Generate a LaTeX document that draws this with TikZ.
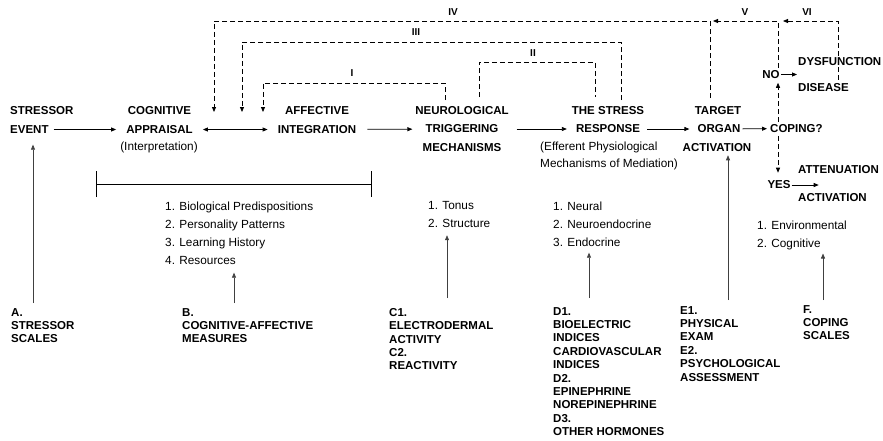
\documentclass[tikz,border=0pt]{standalone}
\usepackage{fontspec}
\setmainfont{Liberation Sans}
\usetikzlibrary{arrows.meta}

\tikzset{
	stage/.style={font=\bfseries\fontsize{11.5}{13.4}\selectfont, inner sep=0pt},
	factor/.style={font=\fontsize{11.8}{18}\selectfont, inner sep=0pt, align=left, anchor=north west},
	gloss/.style={font=\fontsize{11.8}{17.5}\selectfont, inner sep=0pt},
	measure/.style={stage, align=left, anchor=north west},
	loopno/.style={font=\bfseries\fontsize{10}{12}\selectfont, inner sep=0pt},
	flow/.style={->, line width=0.8pt},
	feedback/.style={line width=0.8pt, dash pattern=on 5pt off 3pt},
	gauge/.style={->, line width=0.6pt, black!75},
}

\begin{document}
\begin{tikzpicture}[x=1pt, y=-1pt, >={Triangle[length=5pt,width=4pt]}]
		\useasboundingbox (0,0) rectangle (883,440);
		% main sequence
		\node[stage, anchor=west] (stressor) at (10,111) {STRESSOR};
		\node[stage, anchor=west] (event) at (10,129.5) {EVENT};
		\node[stage] (cognitive) at (159.5,111) {COGNITIVE};
		\node[stage] (appraisal) at (159.5,129.5) {APPRAISAL};
		\node[gloss] (interp) at (159,147.5) {(Interpretation)};
		\node[stage] (affective) at (317,111) {AFFECTIVE};
		\node[stage] (integration) at (317,129.5) {INTEGRATION};
		\node[stage] (neuro) at (462,110.5) {NEUROLOGICAL};
		\node[stage] (trigger) at (462,129) {TRIGGERING};
		\node[stage] (mechanisms) at (462,147.5) {MECHANISMS};
		\node[stage] (thestress) at (608,110.5) {THE STRESS};
		\node[stage] (response) at (608,129) {RESPONSE};
		\node[gloss, align=left, anchor=north west] (efferent) at (540,141.5) {(Efferent Physiological\\Mechanisms of Mediation)};
		\node[stage] (target) at (718,110.5) {TARGET};
		\node[stage] (organ) at (719,129) {ORGAN};
		\node[stage] (activation) at (717,147.5) {ACTIVATION};
		\node[stage, anchor=west] (coping) at (770,128.5) {COPING?};
		\node[stage] (no) at (771,74.5) {NO};
		\node[stage, anchor=west] (dysfunction) at (798,61.5) {DYSFUNCTION};
		\node[stage, anchor=west] (disease) at (798,88) {DISEASE};
		\node[stage] (yes) at (779,185) {YES};
		\node[stage, anchor=west] (attenuation) at (798,170) {ATTENUATION};
		\node[stage, anchor=west] (relief) at (798,198) {ACTIVATION};

		\draw[flow, shorten <=5pt, shorten >=10pt] (event) -- (appraisal);
		\draw[flow, <->, shorten <=10pt, shorten >=10pt] (appraisal) -- (integration);
		\draw[flow, shorten <=11pt, shorten >=13pt] (integration) -- (trigger);
		\draw[flow, shorten <=18pt, shorten >=9pt] (trigger) -- (response);
		\draw[flow, shorten <=7pt, shorten >=8pt] (response) -- (organ);
		\draw[flow, shorten <=2pt, shorten >=3pt] (organ) -- (coping);
		\draw[flow, shorten <=1pt, shorten >=1pt] (no.east) -- (no.east -| dysfunction.west);
		\draw[flow, shorten <=1pt] (yes.east) -- ++(28,0);

		% feedback loops
		\path ([xshift=-17pt]neuro.north) coordinate (dropI)
			([xshift=17pt]neuro.north) coordinate (dropIIa)
			([xshift=-13pt]thestress.north) coordinate (dropIIb)
			([xshift=13pt]thestress.north) coordinate (dropIII)
			([xshift=-8pt]target.north) coordinate (dropIV)
			([xshift=8pt]coping.west) coordinate (axis)
			([xshift=40pt]disease.north west) coordinate (dropVI);
		\coordinate (inIV) at (214,112);
		\coordinate (inIII) at (242,112);
		\coordinate (inI) at (263,112);
		\coordinate (lvlIV) at (0,21);
		\coordinate (lvlIII) at (0,42);
		\coordinate (lvlII) at (0,62);
		\coordinate (lvlI) at (0,83);
		\draw[feedback, ->, shorten <=6pt] (dropI) |- (inI |- lvlI) -- (inI);
		\draw[feedback, shorten <=9pt, shorten >=9pt] (dropIIa) |- (dropIIb |- lvlII) -- (dropIIb);
		\draw[feedback, ->, shorten <=6pt] (dropIII) |- (inIII |- lvlIII) -- (inIII);
		\draw[feedback, ->, shorten <=8pt] (dropIV) |- (inIV |- lvlIV) -- (inIV);
		\draw[feedback, ->, shorten <=2pt, shorten >=3pt] (axis |- no.north) |- (dropIV |- lvlIV);
		\draw[feedback, ->, shorten <=4pt, shorten >=5pt] (dropVI) |- (axis |- lvlIV);
		\draw[feedback, ->, shorten <=2pt, shorten >=4pt] (axis |- coping.north) -- (axis |- no.south);
		\draw[feedback, ->, shorten <=3pt, shorten >=8pt] (axis |- coping.south) -- (axis |- yes.north);
		\node[loopno] (lblI) at (352,73) {I};
		\node[loopno] (lblII) at (533,53) {II};
		\node[loopno] (lblIII) at (416,32) {III};
		\node[loopno] (lblIV) at (453,12) {IV};
		\node[loopno] (lblV) at (745,12) {V};
		\node[loopno] (lblVI) at (807,12) {VI};

		% factors
		\draw[line width=0.8pt, {Bar[width=26pt]}-{Bar[width=26pt]}] (96,184) -- (372,184);
		\node[factor] (predisp) at (165,201.6) {1. Biological Predispositions\\2. Personality Patterns\\3. Learning History\\4. Resources};
		\node[factor] (tonus) at (428,201.6) {1. Tonus\\2. Structure};
		\node[factor] (neural) at (553,201.6) {1. Neural\\2. Neuroendocrine\\3. Endocrine};
		\node[factor] (copelist) at (757,220.6) {1. Environmental\\2. Cognitive};

		% measures
		\node[measure] (measA) at (11,308) {A.\\STRESSOR\\SCALES};
		\node[measure] (measB) at (182,308) {B.\\COGNITIVE-AFFECTIVE\\MEASURES};
		\node[measure] (measC) at (389,308) {C1.\\ELECTRODERMAL\\ACTIVITY\\C2.\\REACTIVITY};
		\node[measure] (measD) at (553,307) {D1.\\BIOELECTRIC\\INDICES\\CARDIOVASCULAR\\INDICES\\D2.\\EPINEPHRINE\\NOREPINEPHRINE\\D3.\\OTHER HORMONES};
		\node[measure] (measE) at (680,306) {E1.\\PHYSICAL\\EXAM\\E2.\\PSYCHOLOGICAL\\ASSESSMENT};
		\node[measure] (measF) at (803,305) {F.\\COPING\\SCALES};
		\path ([xshift=22pt]measA.north west) coordinate (footA)
			([xshift=52pt]measB.north west) coordinate (footB)
			([xshift=58pt]measC.north west) coordinate (footC)
			([xshift=36pt]measD.north west) coordinate (footD)
			([xshift=48pt]measE.north west) coordinate (footE)
			([xshift=20pt]measF.north west) coordinate (footF);
		\draw[gauge, shorten <=5pt, shorten >=11pt] (footA) -- (footA |- event.south);
		\draw[gauge, shorten <=5pt, shorten >=8pt] (footB) -- (footB |- predisp.south);
		\draw[gauge, shorten <=10pt, shorten >=7pt] (footC) -- (footC |- tonus.south);
		\draw[gauge, shorten <=9pt, shorten >=6pt] (footD) -- (footD |- neural.south);
		\draw[gauge, shorten <=6pt, shorten >=3.5pt] (footE) -- (footE |- activation.south);
		\draw[gauge, shorten <=5pt, shorten >=3.5pt] (footF) -- (footF |- copelist.south);
	\end{tikzpicture}
\end{document}
